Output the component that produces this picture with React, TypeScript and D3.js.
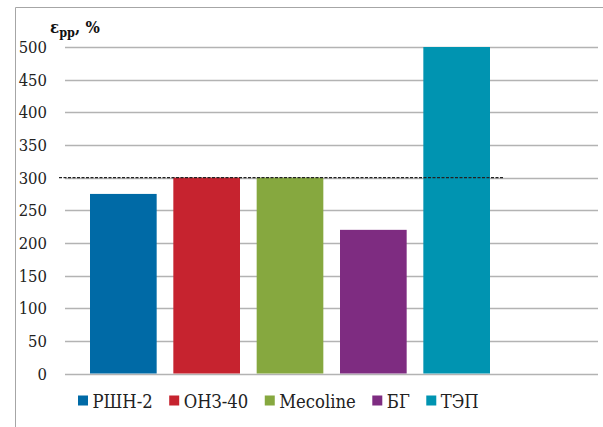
import React, { useEffect, useRef } from "react";
import * as d3 from "d3";

const categories = ["РШН-2", "ОНЗ-40", "Mecoline", "БГ", "ТЭП"];
const values = [275, 300, 300, 220, 500];
const colors = ["#006AA6", "#C6232F", "#86A83F", "#7E2C81", "#0094B1"];
const yTicks = [0, 50, 100, 150, 200, 250, 300, 350, 400, 450, 500];
const referenceValue = 300;

const W = 603;
const H = 427;

export default function App() {
  const ref = useRef<SVGSVGElement | null>(null);

  useEffect(() => {
    const svg = d3.select(ref.current);
    svg.selectAll("*").remove();
    const font = "DejaVu Serif Condensed, DejaVu Serif, serif";

    const y = d3.scaleLinear().domain([0, 500]).range([373.5, 47]);
    const x = d3.scaleBand<string>().domain(categories).range([90, 490]).paddingInner(0.2).paddingOuter(0);

    svg.append("path")
      .attr("d", `M15.5,${H + 5} L15.5,7.5 L${W + 5},7.5`)
      .attr("fill", "none").attr("stroke", "#a6a6a6").attr("stroke-width", 1);

    svg.append("g").selectAll("line").data(yTicks).join("line")
      .attr("x1", 65).attr("x2", 598)
      .attr("y1", (d) => Math.round(y(d)) + 0.5).attr("y2", (d) => Math.round(y(d)) + 0.5)
      .attr("stroke", "#b3b3b3").attr("stroke-width", 1.3);

    svg.append("g").selectAll("text").data(yTicks).join("text")
      .attr("x", 47).attr("y", (d) => y(d) + 6)
      .attr("text-anchor", "end")
      .attr("font-family", font).attr("font-size", 16.5).attr("fill", "#222")
      .text((d) => String(d));

    svg.append("g").selectAll("rect").data(categories).join("rect")
      .attr("x", (d) => x(d)!)
      .attr("width", x.bandwidth())
      .attr("y", (d, i) => y(values[i]))
      .attr("height", (d, i) => y(0) - y(values[i]))
      .attr("fill", (d, i) => colors[i]);

    svg.append("line")
      .attr("x1", 59).attr("x2", 504)
      .attr("y1", y(referenceValue)).attr("y2", y(referenceValue))
      .attr("stroke", "#222").attr("stroke-width", 1.2).attr("stroke-dasharray", "3,1.5");

    const t = svg.append("text").attr("x", 50).attr("y", 33)
      .attr("font-family", font).attr("font-size", 16.8).attr("font-weight", "bold").attr("fill", "#111");
    t.append("tspan").text("ε");
    t.append("tspan").attr("dy", 4).attr("font-size", 12.5).text("pp");
    t.append("tspan").attr("dy", -4).text(", %");

    const lg = svg.append("g");
    let cx = 78;
    categories.forEach((c, i) => {
      lg.append("rect").attr("x", cx).attr("y", 395.5).attr("width", 10).attr("height", 10).attr("fill", colors[i]);
      const tx = lg.append("text").attr("x", cx + 14.5).attr("y", 407.5)
        .attr("font-family", font).attr("font-size", 18.3).attr("fill", "#222").text(c);
      const w = (tx.node() as SVGTextElement).getComputedTextLength();
      cx = cx + 14.5 + w + 16.5;
    });
  }, []);

  return (
    <svg ref={ref} width={W} height={H} style={{ position: "absolute", left: 0, top: 0, background: "#fff" }} />
  );
}
